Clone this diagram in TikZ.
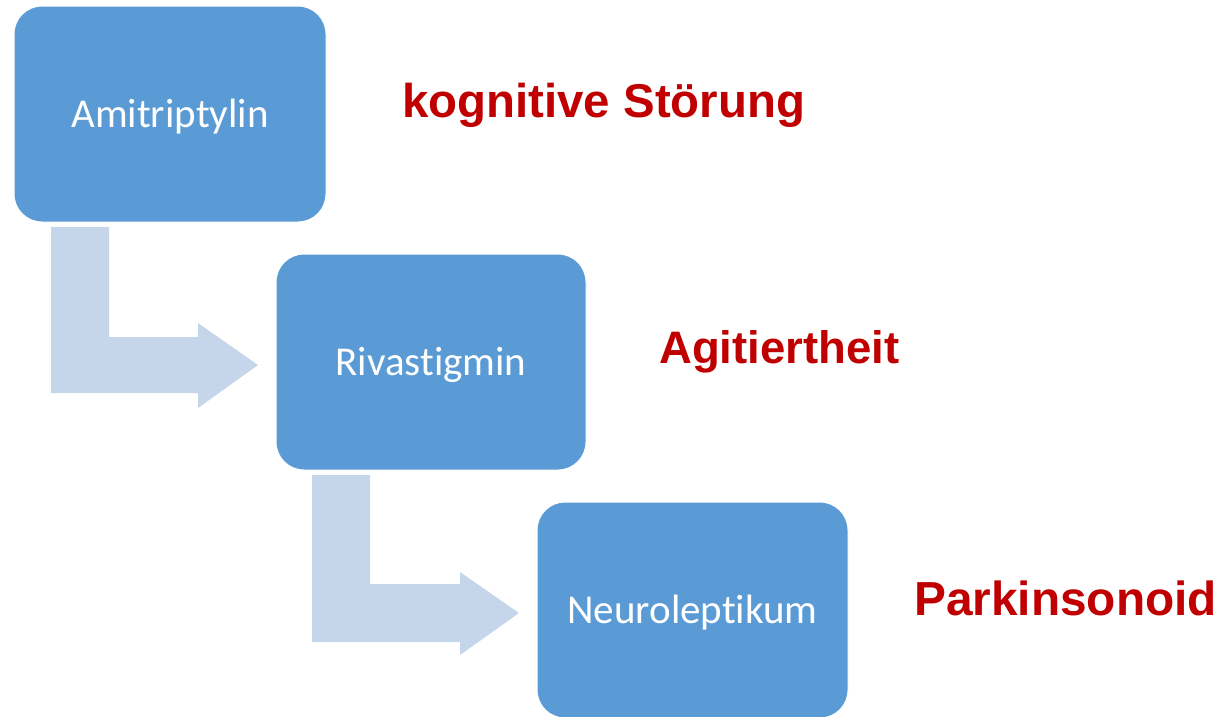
\documentclass[tikz,border=0pt]{standalone}
\usepackage{fontspec}
\setmainfont{Liberation Sans}
\newfontfamily\boxfont[Ligatures=NoCommon]{Carlito}
\definecolor{boxblue}{HTML}{5B9BD5}
\definecolor{arrowblue}{HTML}{C5D5EA}
\definecolor{labelred}{HTML}{C00000}
\tikzset{
  drugbox/.style={rectangle, rounded corners=28pt, fill=boxblue, draw=white,
    line width=1pt, text=white, font=\boxfont\fontsize{41}{48}\selectfont,
    text height=30pt, text depth=4pt, inner sep=0pt},
  bentarrow/.style={fill=arrowblue, draw=none},
  effect/.style={text=labelred, anchor=base west, inner sep=0pt}
}
\begin{document}
\begin{tikzpicture}[x=1pt, y=-1pt]
  \useasboundingbox (0,0) rectangle (1222,716);

  % bent block arrows leading from one drug to the next
  \fill[bentarrow] (51,227) -- (109,227) -- (109,337) -- (198,337) -- (198,323)
    -- (258,365) -- (198,408) -- (198,393) -- (51,393) -- cycle;
  \fill[bentarrow] (312,475) -- (370,475) -- (370,584) -- (460,584) -- (460,572)
    -- (519,613) -- (460,655) -- (460,642) -- (312,642) -- cycle;

  % drug boxes
  \node[drugbox, minimum width=312pt, minimum height=216pt] (amitriptylin) at (170,114) {Amitriptylin};
  \node[drugbox, minimum width=310pt, minimum height=216pt] (rivastigmin) at (431,362) {Rivastigmin};
  \node[drugbox, minimum width=311pt, minimum height=216pt] (neuroleptikum) at (692.5,610) {Neuroleptikum};

  % resulting adverse effects
  \node[effect, font=\bfseries\fontsize{47.4}{56}\selectfont] (stoerung) at (402,117) {kognitive Störung};
  \node[effect, font=\bfseries\fontsize{45.5}{54}\selectfont] (agitiert) at (659,363) {Agitiertheit};
  \node[effect, font=\bfseries\fontsize{47.8}{57}\selectfont] (parkinson) at (914,615) {Parkinsonoid};
\end{tikzpicture}
\end{document}
